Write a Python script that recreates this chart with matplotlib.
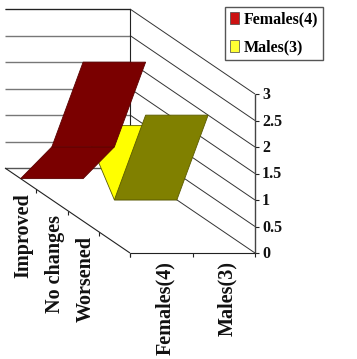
import matplotlib
matplotlib.use("Agg")
import matplotlib.pyplot as plt
from matplotlib.patches import Polygon, Patch

plt.rcParams['font.family'] = ['Liberation Serif', 'DejaVu Serif']

depth_labels = ["Improved", "No changes", "Worsened"]
depth_slots = 4
series_labels = ["Females(4)", "Males(3)"]
females = [0, 1, 3]
males = [1, 0, 2]
value_ticks = [0, 0.5, 1, 1.5, 2, 2.5, 3]
value_tick_labels = ["0", "0.5", "1", "1.5", "2", "2.5", "3"]
vmax = 3

# oblique projection, in pixels of the 357x359 picture
X0, Y0, WIDTH, DEPTH_X, DEPTH_Y, HEIGHT = 5.0, 168.0, 125.0, 125.0, 85.0, 159.0


def project(s, d, v):
    """s: 0..1 across the series axis, d: 0..1 depth, v: value."""
    return (X0 + WIDTH * s + DEPTH_X * d, Y0 + DEPTH_Y * d - HEIGHT * v / vmax)


fig = plt.figure(figsize=(3.57, 3.59), dpi=100)
ax = fig.add_axes([0, 0, 1, 1])
ax.set_xlim(0, 357)
ax.set_ylim(359, 0)
ax.axis("off")


def line(a, b, color="#222222", lw=0.7, z=1):
    ax.plot([a[0], b[0]], [a[1], b[1]], color=color, lw=lw, zorder=z, solid_capstyle="butt")


# walls and gridlines
for t in value_ticks:
    line(project(0, 0, t), project(1, 0, t), color="#777777" if t else "#555555", lw=1.0)
    line(project(1, 0, t), project(1, 1, t), color="#333333", lw=0.7)
    a = project(1, 1, t)
    line(a, (a[0] + 4, a[1]), color="#222222", lw=0.8)
line(project(0, 0, vmax), project(1, 0, vmax), color="#222222", lw=0.8)
line(project(1, 0, 0), project(1, 0, vmax), color="#222222", lw=0.8)
line(project(1, 1, 0), project(1, 1, vmax), color="#444444", lw=1.0)
line(project(0, 0, 0), project(0, 1, 0), color="#222222", lw=0.8)
line(project(0, 1, 0), project(1, 1, 0), color="#222222", lw=0.8)

# axis ticks
for i in range(1, depth_slots + 1):
    a = project(0, i / depth_slots, 0)
    line(a, (a[0], a[1] + 4), color="#222222", lw=0.8)
for s in (0, 0.5, 1):
    a = project(s, 1, 0)
    line(a, (a[0], a[1] + 4), color="#222222", lw=0.8)

# ribbons, back series first
series = [
    (males, 0.5, 1.0, "#FFFF00", "#808000"),
    (females, 0.0, 0.5, "#A01010", "#7A0000"),
]
for values, s0, s1, light, dark in series:
    for i in range(len(values) - 1):
        d0 = (i + 0.5) / depth_slots
        d1 = (i + 1.5) / depth_slots
        rising = values[i + 1] > values[i]
        pts = [project(s0, d0, values[i]), project(s1, d0, values[i]),
               project(s1, d1, values[i + 1]), project(s0, d1, values[i + 1])]
        ax.add_patch(Polygon(pts, closed=True, facecolor=dark if rising else light,
                             edgecolor="#5a5a00" if dark == "#808000" else "#5a0000",
                             lw=0.6, zorder=3))

# value labels
for t, lab in zip(value_ticks, value_tick_labels):
    a = project(1, 1, t)
    ax.text(a[0] + 7, a[1] + 1, lab, fontsize=11.5, fontweight="bold", ha="left", va="center", color="#111111")

# depth labels
for i, lab in enumerate(depth_labels):
    a = project(0, (i + 0.5) / depth_slots, 0)
    ax.text(a[0] + 3, a[1] + 15, lab, rotation=90, fontsize=14.5, fontweight="bold",
            ha="center", va="top", color="#111111")

# series labels
for i, lab in enumerate(series_labels):
    a = project((i + 0.5) / len(series_labels), 1, 0)
    ax.text(a[0] + 3.5, a[1] + 8, lab, rotation=90, fontsize=14.5, fontweight="bold",
            ha="center", va="top", color="#111111")

# legend
handles = [Patch(facecolor="#CC1111", edgecolor="#444444", lw=0.5),
           Patch(facecolor="#FFFF33", edgecolor="#444444", lw=0.5)]
leg = ax.legend(handles, series_labels, loc="upper left", bbox_to_anchor=(225 / 357, 1 - 6.5 / 359),
                borderaxespad=0, frameon=True, fancybox=False, framealpha=1,
                prop={"size": 11.5, "weight": "bold"}, handlelength=0.55, handleheight=0.8,
                handletextpad=0.3, borderpad=0.3, labelspacing=0.75)
leg.get_frame().set_edgecolor("#555555")
leg.get_frame().set_linewidth(1.0)

fig.savefig("out.png", dpi=100)
